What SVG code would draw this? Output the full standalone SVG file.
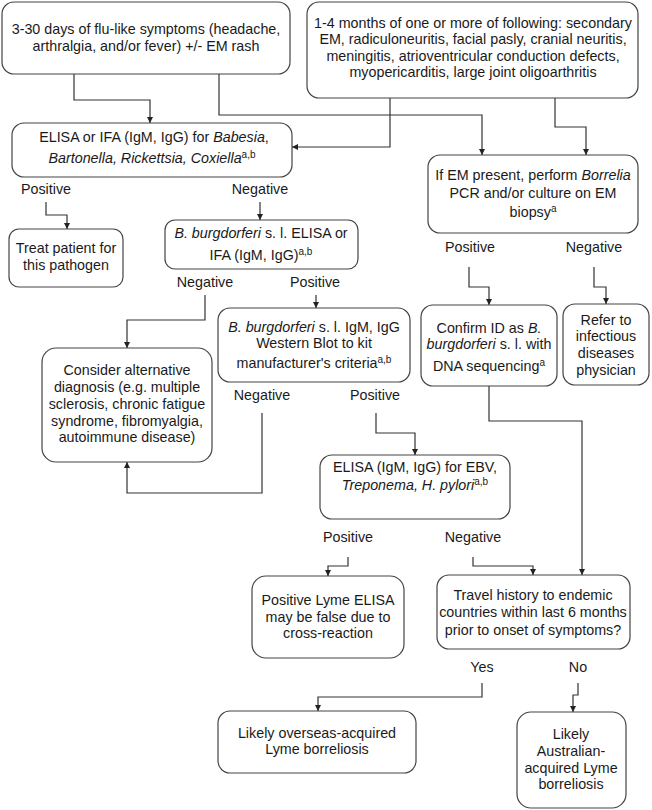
<svg xmlns="http://www.w3.org/2000/svg" width="652" height="810" viewBox="0 0 652 810">
<defs>
<marker id="arr" markerUnits="userSpaceOnUse" markerWidth="8" markerHeight="8" refX="6" refY="3" orient="auto">
<path d="M0,0 L6,3 L0,6 Z" fill="#222"/>
</marker>
<style>
text{font-family:"Liberation Sans",Arial,Helvetica,sans-serif;font-size:14.3px;fill:#1a1a1a;text-anchor:middle}
.box{fill:#fff;stroke:#444;stroke-width:1.2}
.c path{fill:none;stroke:#333;stroke-width:1.2;marker-end:url(#arr)}
.i{font-style:italic}
.s{font-size:10px}
</style>
</defs>
<rect width="652" height="810" fill="#fff"/>
<g class="c" id="connectors">
<path d="M74,74 V100 H150 V123"/>
<path d="M219,74 V115 H482 V155"/>
<path d="M390,98 V147 H292"/>
<path d="M555,98 V127 H586 V155"/>
<path d="M46,202 V215 H67 V229"/>
<path d="M260,202 V220"/>
<path d="M469,267 V287 H489 V305"/>
<path d="M594,267 V287 H606 V304"/>
<path d="M205,295 V320 H127 V348"/>
<path d="M316,295 V308"/>
<path d="M262,413 V493 H127 V462"/>
<path d="M376,413 V433 H415 V455"/>
<path d="M489,386 V421 H582 V575"/>
<path d="M348,557 V566 H328 V576"/>
<path d="M473,557 V566 H533 V575"/>
<path d="M482,683 V697 H318 V711"/>
<path d="M578,683 V695 H573 V712"/>
</g>
<g id="labels">
<text x="46" y="194">Positive</text>
<text x="260" y="194">Negative</text>
<text x="470" y="252">Positive</text>
<text x="594" y="252">Negative</text>
<text x="205" y="287">Negative</text>
<text x="315" y="287">Positive</text>
<text x="262" y="400">Negative</text>
<text x="375" y="400">Positive</text>
<text x="348" y="542">Positive</text>
<text x="473" y="542">Negative</text>
<text x="482" y="672">Yes</text>
<text x="578" y="672">No</text>
</g>
<g id="n1">
<rect class="box" x="2" y="2" width="288" height="72" rx="12"/>
<text x="146" y="34">3-30 days of flu-like symptoms (headache,</text>
<text x="146" y="51">arthralgia, and/or fever) +/- EM rash</text>
</g>
<g id="n2">
<rect class="box" x="307" y="2" width="331" height="96" rx="12"/>
<text x="473" y="28">1-4 months of one or more of following: secondary</text>
<text x="473" y="44">EM, radiculoneuritis, facial pasly, cranial neuritis,</text>
<text x="473" y="61">meningitis, atrioventricular conduction defects,</text>
<text x="473" y="77">myopericarditis, large joint oligoarthritis</text>
</g>
<g id="n3">
<rect class="box" x="12" y="123" width="280" height="54" rx="12"/>
<text x="154" y="142">ELISA or IFA (IgM, IgG) for <tspan class="i">Babesia</tspan>,</text>
<text x="152" y="163"><tspan class="i">Bartonella, Rickettsia, Coxiella</tspan><tspan class="s" dy="-5">a,b</tspan></text>
</g>
<g id="n4">
<rect class="box" x="428" y="155" width="210" height="78" rx="12"/>
<text x="533" y="180">If EM present, perform <tspan class="i">Borrelia</tspan></text>
<text x="533" y="198">PCR and/or culture on EM</text>
<text x="533" y="217">biopsy<tspan class="s" dy="-5">a</tspan></text>
</g>
<g id="n5">
<rect class="box" x="421" y="305" width="136" height="81" rx="12"/>
<text x="489" y="333">Confirm ID as <tspan class="i">B.</tspan></text>
<text x="489" y="349"><tspan class="i">burgdorferi</tspan> s. l. with</text>
<text x="489" y="371">DNA sequencing<tspan class="s" dy="-5">a</tspan></text>
</g>
<g id="n6">
<rect class="box" x="563" y="304" width="86" height="81" rx="12"/>
<text x="606" y="325">Refer to</text>
<text x="606" y="341">infectious</text>
<text x="606" y="358">diseases</text>
<text x="606" y="375">physician</text>
</g>
<g id="n7">
<rect class="box" x="9" y="229" width="114" height="58" rx="10"/>
<text x="66" y="253">Treat patient for</text>
<text x="66" y="270">this pathogen</text>
</g>
<g id="n8">
<rect class="box" x="165" y="220" width="193" height="49" rx="10"/>
<text x="261" y="238"><tspan class="i">B. burgdorferi</tspan> s. l. ELISA or</text>
<text x="261" y="260">IFA (IgM, IgG)<tspan class="s" dy="-5">a,b</tspan></text>
</g>
<g id="n9">
<rect class="box" x="42" y="348" width="170" height="114" rx="14"/>
<text x="127" y="375">Consider alternative</text>
<text x="127" y="392">diagnosis (e.g. multiple</text>
<text x="127" y="409">sclerosis, chronic fatigue</text>
<text x="127" y="426">syndrome, fibromyalgia,</text>
<text x="127" y="442">autoimmune disease)</text>
</g>
<g id="n10">
<rect class="box" x="218" y="308" width="192" height="74" rx="12"/>
<text x="314" y="332"><tspan class="i">B. burgdorferi</tspan> s. l. IgM, IgG</text>
<text x="314" y="348">Western Blot to kit</text>
<text x="314" y="368">manufacturer's criteria<tspan class="s" dy="-5">a,b</tspan></text>
</g>
<g id="n11">
<rect class="box" x="320" y="455" width="190" height="64" rx="12"/>
<text x="415" y="472">ELISA (IgM, IgG) for EBV,</text>
<text x="415" y="490"><tspan class="i">Treponema, H. pylori</tspan><tspan class="s" dy="-5">a,b</tspan></text>
</g>
<g id="n12">
<rect class="box" x="252" y="576" width="152" height="82" rx="14"/>
<text x="328" y="605">Positive Lyme ELISA</text>
<text x="328" y="622">may be false due to</text>
<text x="328" y="638">cross-reaction</text>
</g>
<g id="n13">
<rect class="box" x="437" y="575" width="193" height="74" rx="12"/>
<text x="533" y="600">Travel history to endemic</text>
<text x="533" y="617">countries within last 6 months</text>
<text x="533" y="635">prior to onset of symptoms?</text>
</g>
<g id="n14">
<rect class="box" x="218" y="711" width="198" height="62" rx="12"/>
<text x="317" y="738">Likely overseas-acquired</text>
<text x="317" y="754">Lyme borreliosis</text>
</g>
<g id="n15">
<rect class="box" x="517" y="712" width="109" height="96" rx="14"/>
<text x="571" y="739">Likely</text>
<text x="571" y="756">Australian-</text>
<text x="571" y="773">acquired Lyme</text>
<text x="571" y="789">borreliosis</text>
</g>
</svg>
